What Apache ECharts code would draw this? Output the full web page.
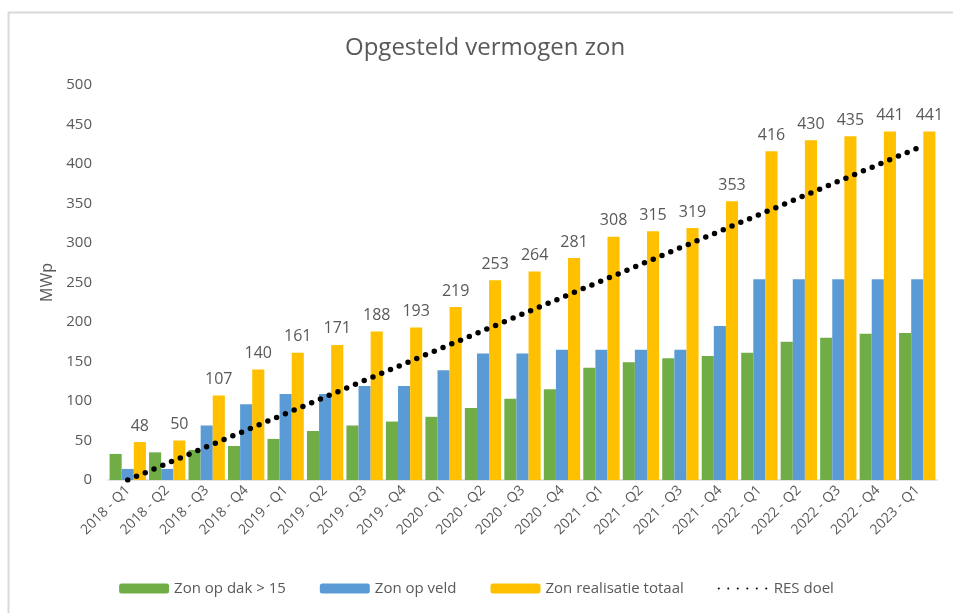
<!DOCTYPE html>
<html>
<head>
<meta charset="utf-8">
<script src="https://cdn.jsdelivr.net/npm/echarts@6/dist/echarts.min.js"></script>
<style>html,body{margin:0;padding:0;background:#fff}#c{width:953px;height:613px}</style>
</head>
<body>
<div id="c"></div>
<script>
var categories = ['2018 - Q1','2018 - Q2','2018 - Q3','2018 - Q4','2019 - Q1','2019 - Q2','2019 - Q3','2019 - Q4','2020 - Q1','2020 - Q2','2020 - Q3','2020 - Q4','2021 - Q1','2021 - Q2','2021 - Q3','2021 - Q4','2022 - Q1','2022 - Q2','2022 - Q3','2022 - Q4','2023 - Q1'];
var zonOpDak = [33, 35, 38, 43, 52, 62, 69, 74, 80, 91, 103, 115, 142, 149, 154, 157, 161, 175, 180, 185, 186];
var zonOpVeld = [14, 14, 69, 96, 109, 109, 119, 119, 139, 160, 160, 165, 165, 165, 165, 195, 254, 254, 254, 254, 254];
var zonTotaal = [48, 50, 107, 140, 161, 171, 188, 193, 219, 253, 264, 281, 308, 315, 319, 353, 416, 430, 435, 441, 441];
var resDoel = [0, 21, 42, 63, 84, 105, 126, 147, 168, 189, 210, 231, 252, 273, 294, 315, 336, 357, 378, 399, 420];
var yTicks = [0, 50, 100, 150, 200, 250, 300, 350, 400, 450, 500];

var FONT = '"Open Sans", "Liberation Sans", sans-serif';
var TXT = '#595959';
var chart = echarts.init(document.getElementById('c'), null, {renderer: 'canvas'});
chart.setOption({
  animation: false,
  backgroundColor: '#fff',
  textStyle: {fontFamily: FONT},
  graphic: [{
    type: 'rect', left: 6, top: 10, silent: true,
    shape: {x: 0, y: 0, width: 1000, height: 1000},
    style: {fill: 'none', stroke: '#d9d9d9', lineWidth: 2}
  }],
  title: {
    text: 'Opgesteld vermogen zon',
    left: 340, top: 31,
    textStyle: {fontFamily: FONT, fontSize: 24, fontWeight: 'normal', color: TXT}
  },
  legend: {
    bottom: 12, left: 'center',
    itemWidth: 50, itemHeight: 10, itemGap: 34,
    textStyle: {fontFamily: FONT, fontSize: 15, color: TXT},
    data: ['Zon op dak > 15', 'Zon op veld', 'Zon realisatie totaal',
           {name: 'RES doel', itemStyle: {opacity: 0}}]
  },
  grid: {left: 108, right: 16, top: 85, bottom: 133, containLabel: false},
  xAxis: {
    type: 'category', data: categories,
    axisLine: {lineStyle: {color: '#d9d9d9', width: 1.5}},
    axisTick: {show: false},
    axisLabel: {rotate: 45, fontFamily: FONT, fontSize: 14, color: TXT, margin: 8, interval: 0}
  },
  yAxis: {
    type: 'value', min: yTicks[0], max: yTicks[yTicks.length - 1], interval: 50,
    name: 'MWp', nameLocation: 'middle', nameGap: 50, nameRotate: 90,
    nameTextStyle: {fontFamily: FONT, fontSize: 16, color: TXT},
    axisLine: {show: false}, axisTick: {show: false},
    splitLine: {show: false},
    axisLabel: {fontFamily: FONT, fontSize: 15, color: TXT, margin: 16}
  },
  series: [
    {name: 'Zon op dak > 15', type: 'bar', data: zonOpDak, barGap: '0%', barCategoryGap: '8%',
     itemStyle: {color: '#70AD47'}},
    {name: 'Zon op veld', type: 'bar', data: zonOpVeld, barGap: '0%', barCategoryGap: '8%',
     itemStyle: {color: '#5B9BD5'}},
    {name: 'Zon realisatie totaal', type: 'bar', data: zonTotaal, barGap: '0%', barCategoryGap: '8%',
     itemStyle: {color: '#FFC000'},
     label: {show: true, position: 'top', distance: 8, fontFamily: FONT, fontSize: 16, color: TXT}},
    {name: 'RES doel', type: 'line', data: resDoel, symbol: 'none', z: 5,
     itemStyle: {color: '#000'},
     lineStyle: {color: '#000', width: 5.5, type: [0, 9.5], cap: 'round'}}
  ]
});
</script>
</body>
</html>
